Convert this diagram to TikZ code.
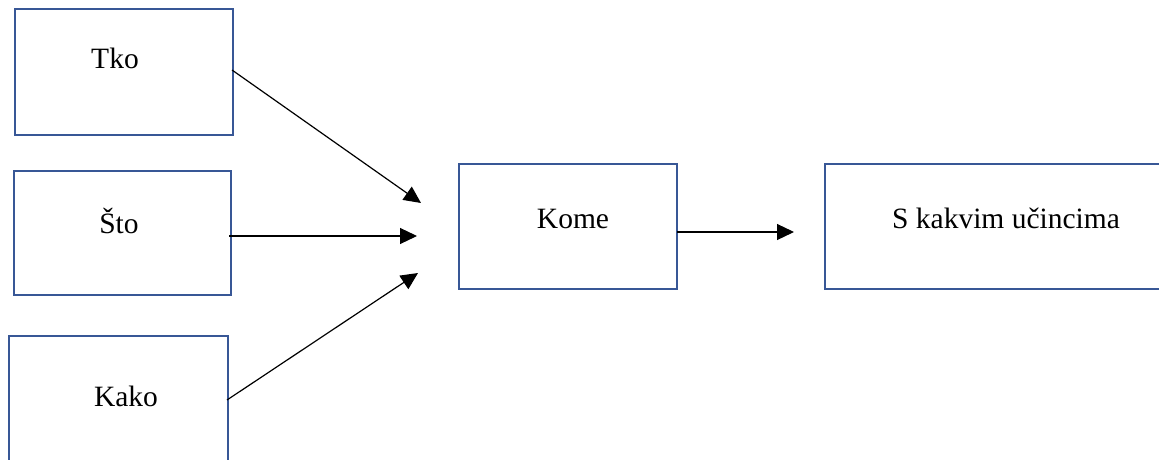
\documentclass[tikz,border=0pt]{standalone}
\usepackage{fontspec}
\setmainfont{Liberation Serif}
\usetikzlibrary{arrows.meta}
\definecolor{boxblue}{RGB}{56,87,150}
\tikzset{
  box/.style={draw=boxblue, line width=2.4pt, rectangle, inner sep=0pt},
  lbl/.style={inner sep=0pt, anchor=base, font=\fontsize{29.5}{34}\selectfont},
  conn/.style={draw=black, line width=1.2pt, -{Triangle[length=17pt,width=16pt]}}
}
\begin{document}
\begin{tikzpicture}[x=1pt,y=-1pt]
\useasboundingbox (0,0) rectangle (1159,460);
% boxes
\node[box, minimum width=218pt, minimum height=126pt] (tko) at (124,72) {};
\node[box, minimum width=217pt, minimum height=124pt] (sto) at (122.5,233) {};
\node[box, minimum width=219pt, minimum height=130pt] (kako) at (118.5,401) {};
\node[box, minimum width=218pt, minimum height=125pt] (kome) at (568,226.5) {};
\node[box, minimum width=350pt, minimum height=125pt] (ucinci) at (1000,226.5) {};
% labels
\node[lbl] (tkot) at (115,68) {Tko};
\node[lbl] (stot) at (119,233) {Što};
\node[lbl] (kakot) at (126,406) {Kako};
\node[lbl] (komet) at (573,228) {Kome};
\node[lbl] (ucincit) at (1006,228) {S kakvim učincima};
% connector ends
\coordinate (tkos) at (232,70);
\coordinate (stos) at (229,236);
\coordinate (kakos) at (227,400);
\coordinate (komes) at (677,232);
\coordinate (t1) at (421,203);
\coordinate (t2) at (417,236);
\coordinate (t3) at (418,273);
\coordinate (t4) at (794,232);
% connectors
\draw[conn] (tkos) -- (t1);
\draw[conn] (stos) -- (t2);
\draw[conn] (kakos) -- (t3);
\draw[conn] (komes) -- (t4);
\end{tikzpicture}
\end{document}
